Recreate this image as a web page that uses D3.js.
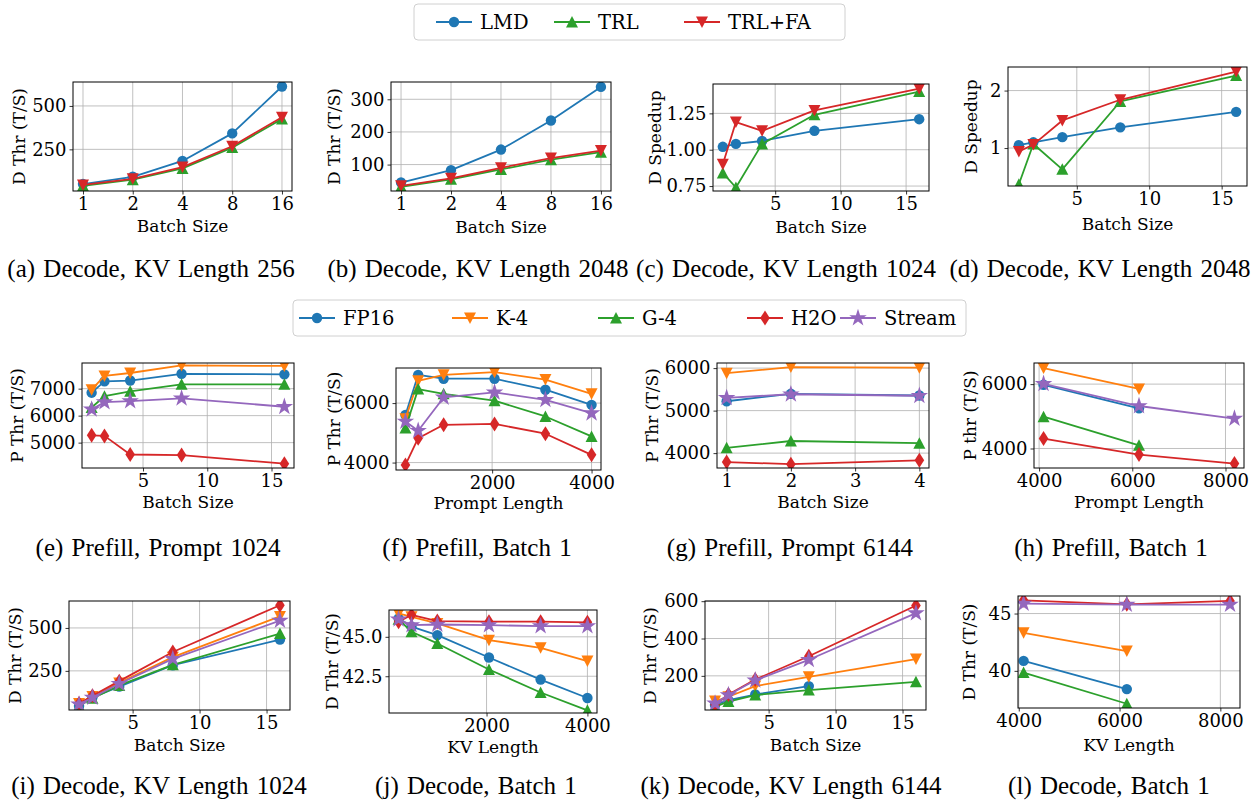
<!DOCTYPE html>
<html lang="en">
<head>
<meta charset="UTF-8">
<title>Decode / Prefill throughput</title>
<script src="https://cdnjs.cloudflare.com/ajax/libs/d3/7.8.5/d3.min.js"></script>
<style>
  body { margin: 0; background: #fff; }
  svg text { font-family: "DejaVu Serif", serif; fill: #000; }
  .cap { font-family: "Liberation Serif", "Times New Roman", serif; font-size: 25px; word-spacing: 2px; }
</style>
</head>
<body>
<svg id="fig" width="1253" height="804"></svg>
<script>
// x values
const batchSizes = [1, 2, 4, 8, 16];
const promptLens = [256, 512, 1024, 2048, 3072, 4000];
const batchSmall = [1, 2, 4];
const longLens = [4096, 6144, 8192];

const topMethods = ["LMD", "TRL", "TRL+FA"];
const kvMethods = ["FP16", "K-4", "G-4", "H2O", "Stream"];

// top row, series order = topMethods
const decode256 = [[50, 92, 183, 342, 612], [40, 75, 140, 260, 425], [45, 80, 148, 268, 435]];
const decode2048 = [[45, 83, 146, 235, 338], [32, 55, 85, 115, 138], [35, 58, 90, 120, 143]];
const speedup1024 = [[1.02, 1.04, 1.06, 1.13, 1.21], [0.84, 0.74, 1.04, 1.24, 1.40], [0.90, 1.19, 1.13, 1.27, 1.42]];
const speedup2048 = [[1.05, 1.10, 1.19, 1.36, 1.63], [0.37, 1.07, 0.63, 1.81, 2.26], [0.94, 1.06, 1.48, 1.84, 2.33]];

// rows 2-3, series order = kvMethods
const prefill1024 = [
  [6850, 7270, 7300, 7550, 7530],
  [6960, 7470, 7580, 7860, 7840],
  [6300, 6720, 6900, 7160, 7160],
  [5270, 5250, 4560, 4540, 4220],
  [6230, 6500, 6540, 6640, 6330]];
const prefillBatch1 = [
  [5600, 6950, 6820, 6820, 6450, 5940],
  [5470, 6750, 6950, 7040, 6790, 6310],
  [5160, 6470, 6310, 6080, 5550, 4880],
  [3920, 4820, 5270, 5300, 4970, 4260],
  [5380, 5070, 6190, 6360, 6110, 5660]];
const prefill6144 = [
  [5220, 5395, 5355],
  [5880, 6025, 6010],
  [4125, 4285, 4235],
  [3790, 3740, 3830],
  [5300, 5385, 5350]];
const prefillLong = [
  [5980, 5250, null],
  [6500, 5850, null],
  [4990, 4100, null],
  [4310, 3810, 3530],
  [6010, 5320, 4930]];
const decode1024 = [
  [45, 96, 158, 283, 432],
  [60, 100, 180, 330, 567],
  [45, 90, 165, 285, 467],
  [60, 105, 190, 360, 632],
  [55, 95, 175, 320, 543]];
const decodeBatch1 = [
  [46.17, 45.64, 45.11, 43.69, 42.29, 41.12],
  [46.48, 46.27, 45.85, 44.79, 44.30, 43.46],
  [46.11, 45.32, 44.58, 42.93, 41.47, 40.34],
  [45.96, 46.39, 46.00, 45.96, 45.96, 45.92],
  [46.11, 45.74, 45.78, 45.74, 45.68, 45.68]];
const decode6144 = [
  [44, 70, 100, 145, null],
  [65, 88, 145, 195, 290],
  [35, 62, 97, 124, 168],
  [45, 100, 180, 305, 577],
  [52, 97, 176, 286, 536]];
const decodeLong = [
  [40.87, 38.41, null],
  [43.32, 41.73, null],
  [39.85, 37.13, null],
  [46.15, 45.80, 46.10],
  [45.87, 45.78, 45.78]];

const topColors = ["#1f77b4", "#2ca02c", "#d62728"];
const topMarkers = ["circle", "up", "down"];
const kvColors = ["#1f77b4", "#ff7f0e", "#2ca02c", "#d62728", "#9467bd"];
const kvMarkers = ["circle", "down", "up", "diamond", "star"];

const svg = d3.select("#fig");

function markerPath(type) {
  if (type == "circle") return d3.symbol(d3.symbolCircle, 85)();
  if (type == "up") return "M0,-6L6,5.5L-6,5.5Z";
  if (type == "down") return "M0,6L6,-5.5L-6,-5.5Z";
  if (type == "diamond") return "M0,-7.5L4.8,0L0,7.5L-4.8,0Z";
  return d3.symbol(d3.symbolStar, 95)();
}

// box = axes rectangle in px, label positions are layout only
const panels = [
  {id: "a", box: [73, 82, 292, 191], log: true, xDomain: [0.87, 18.4], xTicks: batchSizes, xs: batchSizes,
   yDomain: [10, 638], yTicks: [250, 500], yFmt: "d", xlabel: "Batch Size", ylabel: "D Thr (T/S)",
   ylabX: 19, xlabY: 226, cap: "(a) Decode, KV Length 256", capX: 151, capY: 268, data: decode256, group: "top"},
  {id: "b", box: [391, 82, 611, 191], log: true, xDomain: [0.87, 18.4], xTicks: batchSizes, xs: batchSizes,
   yDomain: [19, 353], yTicks: [100, 200, 300], yFmt: "d", xlabel: "Batch Size", ylabel: "D Thr (T/S)",
   ylabX: 334, xlabY: 226.7, cap: "(b) Decode, KV Length 2048", capX: 478, capY: 268, data: decode2048, group: "top"},
  {id: "c", box: [713, 84, 929, 191], xDomain: [0.25, 16.75], xTicks: [5, 10, 15], xs: batchSizes,
   yDomain: [0.716, 1.452], yTicks: [0.75, 1.00, 1.25], yFmt: ".2f", xlabel: "Batch Size", ylabel: "D Speedup",
   ylabX: 655, xlabY: 226.7, cap: "(c) Decode, KV Length 1024", capX: 786, capY: 268, data: speedup1024, group: "top"},
  {id: "d", box: [1008, 67, 1247, 186], xDomain: [0.25, 16.75], xTicks: [5, 10, 15], xs: batchSizes,
   yDomain: [0.34, 2.41], yTicks: [1, 2], yFmt: "d", xlabel: "Batch Size", ylabel: "D Speedup",
   ylabX: 971, xlabY: 224, cap: "(d) Decode, KV Length 2048", capX: 1100, capY: 268, data: speedup2048, group: "top"},

  {id: "e", box: [82, 363, 294, 468], xDomain: [0.25, 16.75], xTicks: [5, 10, 15], xs: batchSizes,
   yDomain: [4060, 7950], yTicks: [5000, 6000, 7000], yFmt: "d", xlabel: "Batch Size", ylabel: "P Thr (T/S)",
   ylabX: 17, xlabY: 501.7, cap: "(e) Prefill, Prompt 1024", capX: 158, capY: 547, data: prefill1024, group: "kv"},
  {id: "f", box: [396, 368, 601, 470], xDomain: [66, 4190], xTicks: [2000, 4000], xs: promptLens,
   yDomain: [3750, 7180], yTicks: [4000, 6000], yFmt: "d", xlabel: "Prompt Length", ylabel: "P Thr (T/S)",
   ylabX: 334, xlabY: 502.7, cap: "(f) Prefill, Batch 1", capX: 477, capY: 547, data: prefillBatch1, group: "kv"},
  {id: "g", box: [717, 363, 929, 468], xDomain: [0.85, 4.15], xTicks: [1, 2, 3, 4], xs: batchSmall,
   yDomain: [3650, 6120], yTicks: [4000, 5000, 6000], yFmt: "d", xlabel: "Batch Size", ylabel: "P Thr (T/S)",
   ylabX: 652, xlabY: 501.7, cap: "(g) Prefill, Prompt 6144", capX: 790, capY: 547, data: prefill6144, group: "kv"},
  {id: "h", box: [1034, 363, 1244, 468], xDomain: [3891, 8397], xTicks: [4000, 6000, 8000], xs: longLens,
   yDomain: [3394, 6656], yTicks: [4000, 6000], yFmt: "d", xlabel: "Prompt Length", ylabel: "P thr (T/S)",
   ylabX: 970, xlabY: 501.7, cap: "(h) Prefill, Batch 1", capX: 1111, capY: 547, data: prefillLong, group: "kv"},

  {id: "i", box: [69, 601, 290, 710], xDomain: [0.25, 16.75], xTicks: [5, 10, 15], xs: batchSizes,
   yDomain: [22, 657], yTicks: [250, 500], yFmt: "d", xlabel: "Batch Size", ylabel: "D Thr (T/S)",
   ylabX: 15, xlabY: 745, cap: "(i) Decode, KV Length 1024", capX: 159, capY: 785, data: decode1024, group: "kv"},
  {id: "j", box: [389, 610, 597, 713], xDomain: [66, 4190], xTicks: [2000, 4000], xs: promptLens,
   yDomain: [40.17, 46.70], yTicks: [42.5, 45.0], yFmt: ".1f", xlabel: "KV Length", ylabel: "D Thr (T/S)",
   ylabX: 332, xlabY: 746.7, cap: "(j) Decode, Batch 1", capX: 476, capY: 785, data: decodeBatch1, group: "kv"},
  {id: "k", box: [705, 601, 926, 710], xDomain: [0.25, 16.75], xTicks: [5, 10, 15], xs: batchSizes,
   yDomain: [17, 601], yTicks: [200, 400, 600], yFmt: "d", xlabel: "Batch Size", ylabel: "D Thr (T/S)",
   ylabX: 650, xlabY: 745, cap: "(k) Decode, KV Length 6144", capX: 791, capY: 785, data: decode6144, group: "kv"},
  {id: "l", box: [1018, 596, 1240, 708], xDomain: [3985, 8390], xTicks: [4000, 6000, 8000], xs: longLens,
   yDomain: [36.76, 46.53], yTicks: [40, 45], yFmt: "d", xlabel: "KV Length", ylabel: "D Thr (T/S)",
   ylabX: 969, xlabY: 745, cap: "(l) Decode, Batch 1", capX: 1109, capY: 785, data: decodeLong, group: "kv"}
];

const defs = svg.append("defs");

function drawPanel(p) {
  const [x0, y0, x1, y1] = p.box;
  const x = (p.log ? d3.scaleLog().base(2) : d3.scaleLinear()).domain(p.xDomain).range([x0, x1]);
  const y = d3.scaleLinear().domain(p.yDomain).range([y1, y0]);
  const colors = p.group == "top" ? topColors : kvColors;
  const markers = p.group == "top" ? topMarkers : kvMarkers;
  const g = svg.append("g");

  defs.append("clipPath").attr("id", "clip-" + p.id)
    .append("rect").attr("x", x0).attr("y", y0).attr("width", x1 - x0).attr("height", y1 - y0);

  // grid
  g.append("g").selectAll("line").data(p.xTicks).join("line")
    .attr("x1", d => x(d)).attr("x2", d => x(d)).attr("y1", y0).attr("y2", y1)
    .attr("stroke", "#b0b0b0").attr("stroke-width", 0.8);
  g.append("g").selectAll("line").data(p.yTicks).join("line")
    .attr("x1", x0).attr("x2", x1).attr("y1", d => y(d)).attr("y2", d => y(d))
    .attr("stroke", "#b0b0b0").attr("stroke-width", 0.8);

  // series
  const plot = g.append("g").attr("clip-path", `url(#clip-${p.id})`);
  p.data.forEach((vals, si) => {
    const pts = vals.map((v, i) => ({x: p.xs[i], v: v})).filter(d => d.v != null);
    const line = d3.line().x(d => x(d.x)).y(d => y(d.v));
    const s = plot.append("g");
    s.append("path").datum(pts).attr("d", line)
      .attr("fill", "none").attr("stroke", colors[si]).attr("stroke-width", 1.8)
      .attr("stroke-linejoin", "round");
    s.selectAll("path.m").data(pts).join("path").attr("class", "m")
      .attr("d", markerPath(markers[si]))
      .attr("transform", d => `translate(${x(d.x)},${y(d.v)})`)
      .attr("fill", colors[si]);
  });

  // axes
  const xAxis = d3.axisBottom(x).tickValues(p.xTicks).tickFormat(d3.format("d"))
    .tickSize(3.5).tickSizeOuter(0).tickPadding(3);
  const yAxis = d3.axisLeft(y).tickValues(p.yTicks).tickFormat(d3.format(p.yFmt))
    .tickSize(3.5).tickSizeOuter(0).tickPadding(3);
  const gx = g.append("g").attr("transform", `translate(0,${y1})`).call(xAxis);
  const gy = g.append("g").attr("transform", `translate(${x0},0)`).call(yAxis);
  [gx, gy].forEach(a => {
    a.select(".domain").remove();
    a.attr("font-family", null).attr("font-size", null);
    a.selectAll("text").style("font-size", "18px").attr("fill", "#000");
    a.selectAll("line").attr("stroke", "#000").attr("stroke-width", 0.8);
  });

  g.append("rect").attr("x", x0).attr("y", y0).attr("width", x1 - x0).attr("height", y1 - y0)
    .attr("fill", "none").attr("stroke", "#000").attr("stroke-width", 1);

  g.append("text").attr("x", (x0 + x1) / 2).attr("y", p.xlabY)
    .attr("text-anchor", "middle").attr("dominant-baseline", "central")
    .style("font-size", "17px").text(p.xlabel);
  g.append("text")
    .attr("transform", `translate(${p.ylabX},${(y0 + y1) / 2}) rotate(-90)`)
    .attr("text-anchor", "middle").attr("dominant-baseline", "central")
    .style("font-size", "17px").text(p.ylabel);

  svg.append("text").attr("class", "cap").attr("x", p.capX).attr("y", p.capY)
    .attr("text-anchor", "middle").attr("dominant-baseline", "central").text(p.cap);
}

panels.forEach(drawPanel);

// legends
function drawLegend(box, names, colors, markers, handleX) {
  const [bx0, by0, bx1, by1] = box;
  const lg = svg.append("g");
  lg.append("rect").attr("x", bx0).attr("y", by0).attr("width", bx1 - bx0).attr("height", by1 - by0)
    .attr("rx", 4).attr("fill", "#fff").attr("stroke", "#d0d0d0").attr("stroke-width", 1);
  const cy = (by0 + by1) / 2;
  names.forEach((n, i) => {
    const hx = handleX[i];
    lg.append("line").attr("x1", hx - 18).attr("x2", hx + 18).attr("y1", cy).attr("y2", cy)
      .attr("stroke", colors[i]).attr("stroke-width", 1.8);
    lg.append("path").attr("d", markerPath(markers[i]))
      .attr("transform", `translate(${hx},${cy})`).attr("fill", colors[i]);
    lg.append("text").attr("x", hx + 26).attr("y", cy).attr("dominant-baseline", "central")
      .style("font-size", "19.5px").text(n);
  });
}

drawLegend([414, 4, 845, 40], topMethods, topColors, topMarkers, [454, 572, 702]);
drawLegend([293, 300, 966, 336], kvMethods, kvColors, kvMarkers, [317, 470, 616, 765, 858]);
</script>
</body>
</html>
